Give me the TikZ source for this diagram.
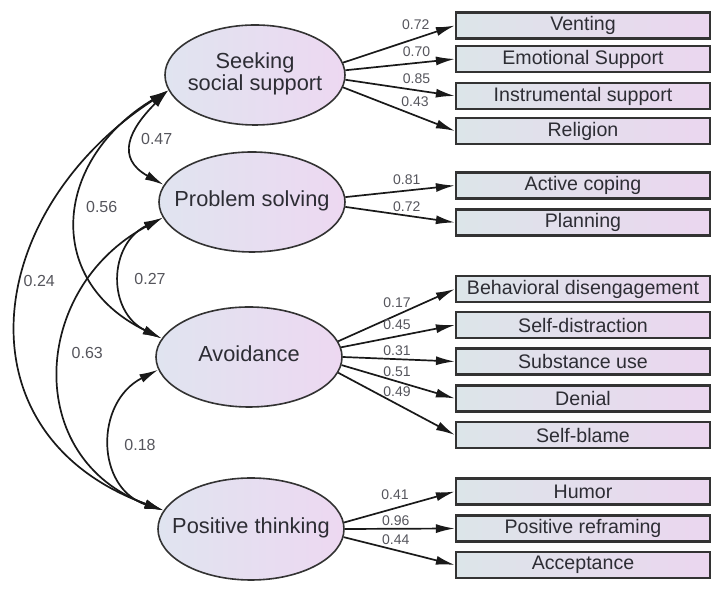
\documentclass[tikz,border=0pt]{standalone}
\usepackage{fontspec}
\setmainfont{Liberation Sans}
\usepackage{xcolor}
\usetikzlibrary{shapes.geometric,arrows.meta}

\definecolor{latleft}{RGB}{224,228,240}
\definecolor{latright}{RGB}{237,216,241}
\definecolor{obsleft}{RGB}{220,229,233}
\definecolor{obsright}{RGB}{235,214,239}
\definecolor{txtgray}{RGB}{45,45,52}
\definecolor{numgray}{RGB}{85,85,92}

\newcommand{\latname}[1]{\makebox[0pt]{\begin{tabular}{@{}c@{}}#1\end{tabular}}}

\tikzset{
  latent/.style={ellipse, draw=black!80, line width=0.8pt,
    left color=latleft, right color=latright,
    minimum width=93pt, minimum height=50pt, inner sep=0pt,
    font=\fontsize{10.9}{11}\selectfont, text=txtgray},
  observed/.style={rectangle, draw=black!80, line width=1.1pt,
    left color=obsleft, right color=obsright,
    minimum width=127pt, minimum height=13pt, inner sep=0pt,
    font=\fontsize{9.8}{11}\selectfont, text=txtgray},
  load/.style={->, line width=0.85pt, black!90},
  cov/.style={<->, line width=0.85pt, black!90},
  coef/.style={font=\fontsize{7}{8}\selectfont, text=numgray, inner sep=0pt},
  rcoef/.style={font=\fontsize{8}{9}\selectfont, text=numgray, inner sep=0pt}
}

\begin{document}
\begin{tikzpicture}[x=0.5pt, y=0.5pt, >={Latex[length=9.5pt,width=4.5pt]}]
  \useasboundingbox (0,0) rectangle (712,599);

  % latent factors
  \node[latent, minimum width=90pt] (sss) at (255,524) {\latname{Seeking\\social support}};
  \node[latent] (ps)  at (252,397) {\latname{Problem solving}};
  \node[latent] (avo) at (249,242) {\latname{Avoidance}};
  \node[latent, minimum height=51pt] (pt) at (251,70) {\latname{Positive thinking}};

  % observed items
  \node[observed] (vent)    at (583,573.5) {Venting};
  \node[observed] (emo)     at (583,540)   {Emotional Support};
  \node[observed] (instr)   at (583,503)   {Instrumental support};
  \node[observed] (relig)   at (583,468)   {Religion};
  \node[observed] (active)  at (583,413.5) {Active coping};
  \node[observed] (plan)    at (583,376.5) {Planning};
  \node[observed] (behav)   at (583,310)   {Behavioral disengagement};
  \node[observed] (distr)   at (583,274)   {Self-distraction};
  \node[observed] (subst)   at (583,237.5) {Substance use};
  \node[observed] (denial)  at (583,200.5) {Denial};
  \node[observed] (blame)   at (583,164)   {Self-blame};
  \node[observed] (humor)   at (583,107.5) {Humor};
  \node[observed] (reframe) at (583,70.5)  {Positive reframing};
  \node[observed] (accept)  at (583,34)    {Acceptance};

  % loadings
  \draw[load] (sss.8)  -- (vent.west);
  \draw[load] (sss.3)  -- (emo.west);
  \draw[load] (sss.-3) -- (instr.west);
  \draw[load] (sss.-8) -- (relig.west);
  \draw[load] (ps.3)   -- (active.west);
  \draw[load] (ps.-3)  -- (plan.west);
  \draw[load] (avo.10) -- (behav.west);
  \draw[load] (avo.6)  -- (distr.west);
  \draw[load] (avo.0)  -- (subst.west);
  \draw[load] (avo.-5) -- (denial.west);
  \draw[load] (avo.-10) -- (blame.west);
  \draw[load] (pt.4)   -- (humor.west);
  \draw[load] (pt.0)   -- (reframe.west);
  \draw[load] (pt.-5)  -- (accept.west);

  \node[coef] (l1)  at (415.7,574) {0.72};
  \node[coef] (l2)  at (416.5,547) {0.70};
  \node[coef] (l3)  at (416.5,520) {0.85};
  \node[coef] (l4)  at (415,497.3) {0.43};
  \node[coef] (l5)  at (406.7,419) {0.81};
  \node[coef] (l6)  at (406.7,392.3) {0.72};
  \node[coef] (l7)  at (397,296) {0.17};
  \node[coef] (l8)  at (397,274) {0.45};
  \node[coef] (l9)  at (397,248.5) {0.31};
  \node[coef] (l10) at (397,227.3) {0.51};
  \node[coef] (l11) at (397,207) {0.49};
  \node[coef] (l12) at (395,104) {0.41};
  \node[coef] (l13) at (395.7,78) {0.96};
  \node[coef] (l14) at (395.7,59) {0.44};

  % correlations between factors
  \draw[cov] (sss.190) to[out=225, in=151, looseness=1.5]  (ps.169);
  \draw[cov] (sss.190) to[out=211, in=154, looseness=1.37] (avo.168);
  \draw[cov] (sss.190) to[out=213, in=160, looseness=1.35] (pt.168);
  \draw[cov] (ps.190)  to[out=206, in=154, looseness=1.29] (avo.168);
  \draw[cov] (ps.190)  to[out=208, in=160, looseness=1.31] (pt.168);
  \draw[cov] (avo.188) to[out=207, in=162, looseness=1.3]  (pt.168);

  \node[rcoef] (r1) at (156.7,459.7) {0.47};
  \node[rcoef] (r2) at (101.7,392.3) {0.56};
  \node[rcoef] (r3) at (39.3,318)    {0.24};
  \node[rcoef] (r4) at (150,319.7)   {0.27};
  \node[rcoef] (r5) at (87.3,246.3)  {0.63};
  \node[rcoef] (r6) at (140,154)     {0.18};
\end{tikzpicture}
\end{document}
